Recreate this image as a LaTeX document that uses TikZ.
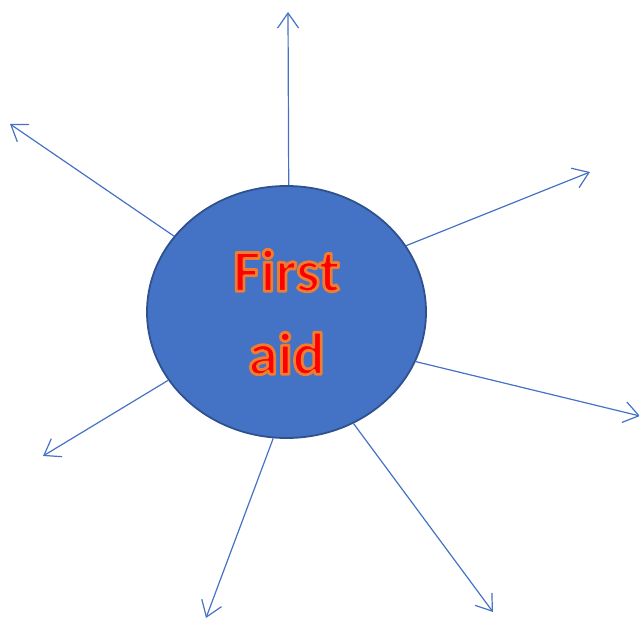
\documentclass[tikz,border=0pt]{standalone}
\usepackage{fontspec}
\newfontfamily\calfont{Carlito}
\usetikzlibrary{arrows.meta,shapes.geometric}
\definecolor{officeblue}{HTML}{4472C4}
\definecolor{darkblue}{HTML}{2F528F}
% red letters with an orange rim
\newcommand\glowtext[1]{\special{pdf:code 2 Tr 0.929 0.490 0.192 RG 2.8 w 1 j}#1\special{pdf:code 0 Tr}}

\begin{document}
\begin{tikzpicture}[x=1bp,y=-1bp,
  spoke/.style={officeblue,line width=1.2bp,-{Straight Barb[length=15bp,width=21bp,line width=1.2bp]}}]
  \useasboundingbox (0,0) rectangle (639,619);
  \node[ellipse,draw=darkblue,line width=1.8bp,fill=officeblue,minimum width=279bp,minimum height=252bp,
    inner sep=0pt,align=center,text=red,font=\calfont\bfseries\fontsize{60bp}{83bp}\selectfont]
    (aid) at (286.5,312) {\glowtext{First}\\\glowtext{aid}};
  \coordinate (n) at (288,12);
  \coordinate (nw) at (10,124);
  \coordinate (ne) at (590,172);
  \coordinate (e) at (640,416);
  \coordinate (se) at (493,612);
  \coordinate (s) at (206,618);
  \coordinate (sw) at (43,456);
  \foreach \a/\t in {89/n,146.5/nw,29/ne,-21.6/e,-59.5/se,-96.2/s,210.2/sw}
    \draw[spoke] (aid.\a) -- (\t);
\end{tikzpicture}
\end{document}
